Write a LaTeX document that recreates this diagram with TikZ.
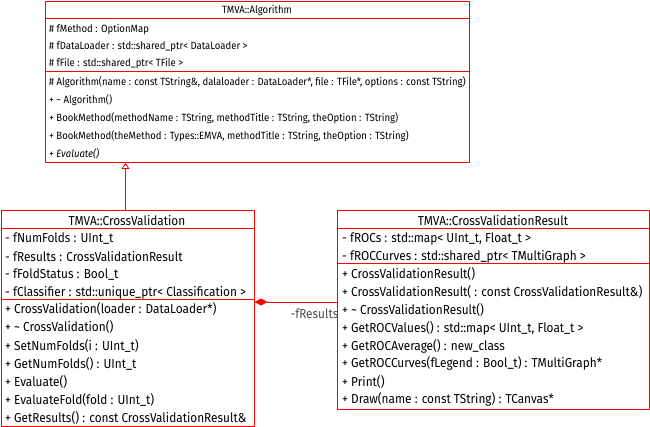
\documentclass[tikz,border=0pt]{standalone}
\usepackage{fontspec}
\setmainfont{Fira Sans}[FakeStretch=0.91]
\usetikzlibrary{arrows.meta}
\definecolor{umlred}{RGB}{255,0,0}
\tikzset{
  classbox/.style={draw=umlred, line width=1pt, fill=white, anchor=north west, inner sep=0pt},
  member/.style={anchor=west, inner sep=0pt, font=\fontsize{10.5}{12}\selectfont},
  title/.style={anchor=center, inner sep=0pt, font=\fontsize{10.5}{12}\selectfont},
  memberB/.style={anchor=west, inner sep=0pt, font=\fontsize{13}{15}\selectfont},
  titleB/.style={anchor=center, inner sep=0pt, font=\fontsize{13}{15}\selectfont},
  sep/.style={draw=umlred, line width=1pt},
  inherit/.style={draw=umlred, line width=0.8pt, -{Triangle[open, length=6pt, width=8pt]}},
  compose/.style={draw=umlred, line width=0.8pt, {Diamond[length=13pt, width=7pt, fill=umlred]}-},
  rolelabel/.style={anchor=west, inner sep=0pt, text=black!70, font=\fontsize{13}{15}\selectfont}
}
\begin{document}
\begin{tikzpicture}[x=1pt, y=-1pt]
\useasboundingbox (0,0) rectangle (650,427);
% ---- TMVA::Algorithm
\node[classbox, minimum width=424pt, minimum height=161pt] (alg) at (45,1) {};
\draw[sep] (45,19) -- (469,19);
\draw[sep] (45,72) -- (469,72);
\node[title] (algT) at (257,11) {TMVA::Algorithm};
\node[member] (a1) at (49,29.3) {\# fMethod : OptionMap};
\node[member] (a2) at (49,46.3) {\# fDataLoader : std::shared\_ptr< DataLoader >};
\node[member] (a3) at (49,63.3) {\# fFile : std::shared\_ptr< TFile >};
\node[member] (a4) at (49,81.7) {\# Algorithm(name : const TString\&, dalaloader : DataLoader*, file : TFile*, options : const TString)};
\node[member] (a5) at (49,99.8) {+ \textasciitilde{} Algorithm()};
\node[member] (a6) at (49,117.9) {+ BookMethod(methodName : TString, methodTitle : TString, theOption : TString)};
\node[member] (a7) at (49,136) {+ BookMethod(theMethod : Types::EMVA, methodTitle : TString, theOption : TString)};
\node[member] (a8) at (49,154.1) {\itshape + Evaluate()};
% ---- TMVA::CrossValidation
\node[classbox, minimum width=253pt, minimum height=216pt] (cv) at (0.5,210) {};
\draw[sep] (0.5,228.5) -- (253.5,228.5);
\draw[sep] (0.5,300) -- (253.5,300);
\node[titleB] (cvT) at (127,220.7) {TMVA::CrossValidation};
\node[memberB] (c1) at (5,239) {- fNumFolds : UInt\_t};
\node[memberB] (c2) at (5,256.9) {- fResults : CrossValidationResult};
\node[memberB] (c3) at (5,274.8) {- fFoldStatus : Bool\_t};
\node[memberB] (c4) at (5,292.7) {- fClassifier : std::unique\_ptr< Classification >};
\node[memberB] (c5) at (5,309.3) {+ CrossValidation(loader : DataLoader*)};
\node[memberB] (c6) at (5,327.4) {+ \textasciitilde{} CrossValidation()};
\node[memberB] (c7) at (5,345.5) {+ SetNumFolds(i : UInt\_t)};
\node[memberB] (c8) at (5,363.6) {+ GetNumFolds() : UInt\_t};
\node[memberB] (c9) at (5,381.7) {+ Evaluate()};
\node[memberB] (c10) at (5,399.8) {+ EvaluateFold(fold : UInt\_t)};
\node[memberB] (c11) at (5,417.9) {+ GetResults() : const CrossValidationResult\&};
% ---- TMVA::CrossValidationResult
\node[classbox, minimum width=312pt, minimum height=198pt] (cvr) at (337.3,210.5) {};
\draw[sep] (337.3,228.5) -- (649.3,228.5);
\draw[sep] (337.3,264) -- (649.3,264);
\node[titleB] (cvrT) at (493,221) {TMVA::CrossValidationResult};
\node[memberB] (r1) at (342,239) {- fROCs : std::map< UInt\_t, Float\_t >};
\node[memberB] (r2) at (342,256.7) {- fROCCurves : std::shared\_ptr< TMultiGraph >};
\node[memberB] (r3) at (342,274.3) {+ CrossValidationResult()};
\node[memberB] (r4) at (342,292.2) {+ CrossValidationResult( : const CrossValidationResult\&)};
\node[memberB] (r5) at (342,310.1) {+ \textasciitilde{} CrossValidationResult()};
\node[memberB] (r6) at (342,328) {+ GetROCValues() : std::map< UInt\_t, Float\_t >};
\node[memberB] (r7) at (342,345.9) {+ GetROCAverage() : new\_class};
\node[memberB] (r8) at (342,363.8) {+ GetROCCurves(fLegend : Bool\_t) : TMultiGraph*};
\node[memberB] (r9) at (342,381.7) {+ Print()};
\node[memberB] (r10) at (342,399.6) {+ Draw(name : const TString) : TCanvas*};
% ---- connectors
\coordinate (inhx) at (125.5,0);
\draw[inherit] (cv.north -| inhx) -- (alg.south -| inhx);
\coordinate (compy) at (0,302);
\draw[compose] (cv.east |- compy) -- (cvr.west |- compy);
\begin{scope}
\clip (250,300) rectangle (336.8,330);
\node[rolelabel] (role) at (290.5,313.5) {-fResults};
\end{scope}
\end{tikzpicture}
\end{document}
